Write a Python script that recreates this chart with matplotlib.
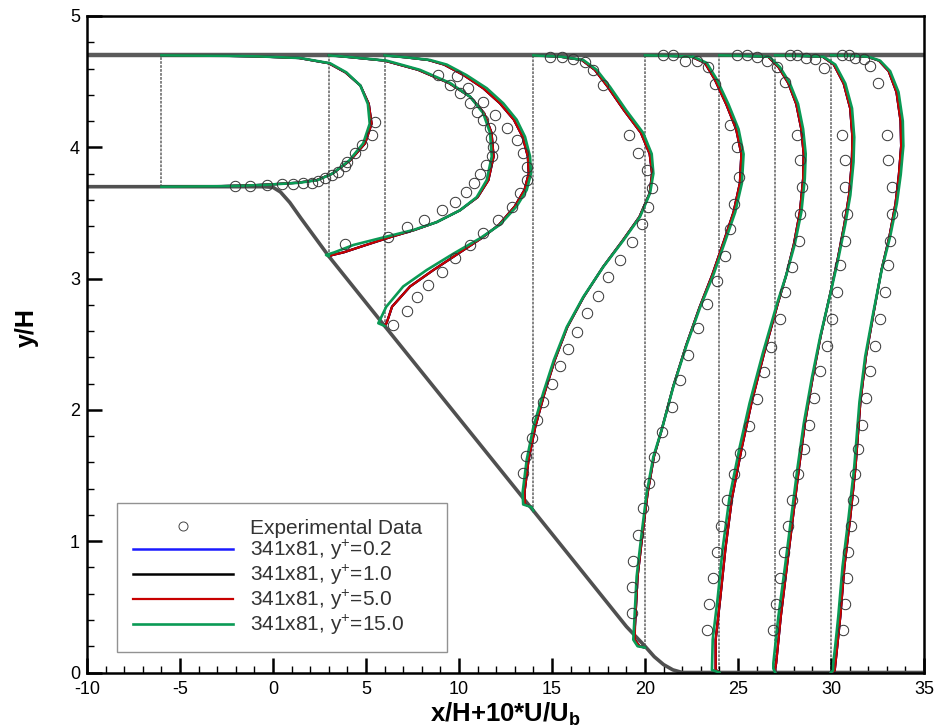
import numpy as np
import matplotlib
matplotlib.use("Agg")
import matplotlib.pyplot as plt
from matplotlib.lines import Line2D
from matplotlib.ticker import MultipleLocator

plt.rcParams['font.family'] = ['Liberation Sans', 'DejaVu Sans']
plt.rcParams['mathtext.fontset'] = 'custom'
plt.rcParams['mathtext.rm'] = 'Liberation Sans'
plt.rcParams['mathtext.bf'] = 'Liberation Sans:bold'
plt.rcParams['axes.unicode_minus'] = False

# wall geometry (x/H, y/H)
top_x = [-10, 35]
top_y = [4.7, 4.7]
wall_x = [-10, -0.5, 0.0, 0.4, 0.9, 1.5, 3.0, 6.0, 14.0, 19.0, 20.0, 20.5, 21.0, 21.5, 22.0, 35.0]
wall_y = [3.70, 3.70, 3.695, 3.66, 3.58, 3.46, 3.17, 2.64, 1.232, 0.35, 0.20, 0.12, 0.06, 0.02, 0.0, 0.0]

stations = [-6, 3, 6, 14, 20, 24, 27, 30]

# computed profiles: y/H, U/Ub (g = y+=15.0, r = y+=5.0)
y_m6 = [3.70, 3.703, 3.708, 3.715, 3.73, 3.75, 3.80, 3.90, 4.03, 4.18, 4.33, 4.47, 4.57, 4.64, 4.68, 4.692, 4.697, 4.70]
g_m6 = [0.0, 0.30, 0.45, 0.57, 0.74, 0.84, 0.92, 1.01, 1.085, 1.12, 1.11, 1.07, 0.995, 0.907, 0.745, 0.53, 0.35, 0.0]
r_m6 = [0.0, 0.28, 0.44, 0.56, 0.73, 0.835, 0.92, 1.015, 1.095, 1.13, 1.115, 1.07, 0.99, 0.90, 0.74, 0.52, 0.34, 0.0]

y_3 = [3.17, 3.18, 3.20, 3.256, 3.32, 3.37, 3.43, 3.52, 3.62, 3.75, 3.93, 4.11, 4.26, 4.385, 4.49, 4.59, 4.66, 4.685, 4.695, 4.70]
g_3 = [0.0, -0.015, 0.03, 0.132, 0.311, 0.454, 0.58, 0.705, 0.795, 0.849, 0.876, 0.867, 0.83, 0.76, 0.652, 0.49, 0.311, 0.13, 0.05, 0.0]
r_3 = [0.0, 0.02, 0.08, 0.20, 0.34, 0.46, 0.58, 0.705, 0.80, 0.858, 0.886, 0.875, 0.835, 0.76, 0.645, 0.48, 0.30, 0.125, 0.05, 0.0]

y_6 = [2.64, 2.66, 2.70, 2.786, 2.94, 3.065, 3.19, 3.307, 3.41, 3.55, 3.675, 3.80, 3.93, 4.08, 4.21, 4.335, 4.45, 4.55, 4.63, 4.665, 4.685, 4.695, 4.70]
g_6 = [0.0, -0.034, -0.02, 0.009, 0.10, 0.226, 0.37, 0.513, 0.62, 0.71, 0.764, 0.787, 0.782, 0.755, 0.71, 0.638, 0.549, 0.44, 0.334, 0.244, 0.119, 0.04, 0.0]
r_6 = [0.0, 0.01, 0.02, 0.04, 0.137, 0.262, 0.395, 0.52, 0.615, 0.70, 0.752, 0.775, 0.77, 0.742, 0.695, 0.62, 0.53, 0.425, 0.32, 0.235, 0.115, 0.04, 0.0]

y_14 = [1.232, 1.26, 1.28, 1.37, 1.62, 1.87, 2.13, 2.38, 2.63, 2.86, 3.09, 3.29, 3.47, 3.65, 3.80, 3.95, 4.11, 4.28, 4.46, 4.59, 4.665, 4.69, 4.70]
g_14 = [0.0, -0.01, -0.055, -0.058, -0.036, 0.0, 0.053, 0.11, 0.179, 0.268, 0.376, 0.483, 0.573, 0.627, 0.645, 0.636, 0.59, 0.50, 0.412, 0.34, 0.268, 0.15, 0.0]
r_14 = [0.0, -0.01, -0.045, -0.048, -0.026, 0.01, 0.06, 0.115, 0.182, 0.27, 0.375, 0.48, 0.57, 0.625, 0.638, 0.625, 0.578, 0.488, 0.40, 0.33, 0.26, 0.145, 0.0]

y_20 = [0.19, 0.20, 0.25, 0.35, 0.73, 1.06, 1.365, 1.644, 1.85, 2.18, 2.495, 2.78, 3.03, 3.285, 3.506, 3.727, 3.948, 4.138, 4.327, 4.517, 4.643, 4.69, 4.698, 4.70]
g_20 = [0.0, -0.04, -0.063, -0.059, -0.045, -0.018, 0.009, 0.045, 0.09, 0.153, 0.224, 0.296, 0.368, 0.431, 0.485, 0.521, 0.53, 0.503, 0.449, 0.386, 0.332, 0.26, 0.1, 0.0]
r_20 = [0.0, -0.03, -0.055, -0.054, -0.04, -0.013, 0.014, 0.048, 0.09, 0.152, 0.222, 0.293, 0.362, 0.424, 0.476, 0.51, 0.518, 0.49, 0.437, 0.375, 0.322, 0.25, 0.1, 0.0]

y_24 = [0.0, 0.02, 0.25, 0.57, 0.95, 1.33, 1.71, 2.05, 2.43, 2.81, 3.03, 3.26, 3.51, 3.76, 3.95, 4.14, 4.33, 4.49, 4.61, 4.69, 4.698, 4.70]
g_24 = [0.0, -0.04, -0.036, -0.009, 0.018, 0.054, 0.108, 0.162, 0.233, 0.31, 0.36, 0.405, 0.441, 0.459, 0.464, 0.45, 0.423, 0.378, 0.326, 0.269, 0.1, 0.0]
r_24 = [0.0, -0.02, -0.02, 0.005, 0.033, 0.068, 0.12, 0.172, 0.24, 0.314, 0.36, 0.40, 0.433, 0.45, 0.453, 0.44, 0.413, 0.37, 0.318, 0.262, 0.1, 0.0]

y_27 = [0.0, 0.03, 0.07, 0.425, 0.81, 1.19, 1.56, 1.90, 2.25, 2.565, 2.88, 3.163, 3.415, 3.636, 3.888, 4.077, 4.297, 4.486, 4.63, 4.69, 4.698, 4.70]
g_27 = [0.0, -0.01, -0.01, 0.017, 0.053, 0.087, 0.12, 0.154, 0.198, 0.243, 0.296, 0.341, 0.377, 0.404, 0.421, 0.425, 0.413, 0.377, 0.323, 0.26, 0.1, 0.0]
r_27 = [0.0, 0.0, 0.005, 0.03, 0.063, 0.096, 0.128, 0.16, 0.202, 0.245, 0.295, 0.338, 0.372, 0.397, 0.412, 0.415, 0.403, 0.368, 0.315, 0.255, 0.1, 0.0]

y_30 = [0.0, 0.015, 0.07, 0.204, 0.425, 0.806, 1.187, 1.567, 2.061, 2.408, 2.754, 3.069, 3.32, 3.573, 3.793, 4.01, 4.2, 4.42, 4.58, 4.66, 4.69, 4.698, 4.70]
g_30 = [0.0, 0.011, 0.012, 0.023, 0.039, 0.062, 0.095, 0.125, 0.153, 0.184, 0.229, 0.273, 0.318, 0.354, 0.375, 0.389, 0.386, 0.363, 0.318, 0.264, 0.2, 0.1, 0.0]
r_30 = [0.0, 0.02, 0.024, 0.034, 0.05, 0.072, 0.104, 0.132, 0.158, 0.188, 0.231, 0.272, 0.314, 0.347, 0.365, 0.377, 0.374, 0.352, 0.31, 0.258, 0.195, 0.1, 0.0]

# experimental data: y/H, U/Ub
ey_m6 = [3.705, 3.705, 3.713, 3.72, 3.72, 3.725, 3.73, 3.746, 3.764, 3.79, 3.814, 3.857, 3.888, 3.954, 4.017, 4.094, 4.195]
eu_m6 = [0.396, 0.476, 0.566, 0.647, 0.709, 0.763, 0.808, 0.844, 0.88, 0.916, 0.951, 0.987, 0.997, 1.041, 1.077, 1.13, 1.148]

ey_3 = [3.265, 3.32, 3.395, 3.45, 3.52, 3.585, 3.657, 3.725, 3.80, 3.865, 3.93, 4.005, 4.07, 4.145, 4.21, 4.27, 4.335, 4.41, 4.475, 4.55]
eu_3 = [0.087, 0.32, 0.42, 0.51, 0.607, 0.678, 0.736, 0.78, 0.813, 0.845, 0.876, 0.884, 0.87, 0.867, 0.83, 0.795, 0.76, 0.705, 0.652, 0.589]

ey_6 = [2.647, 2.75, 2.858, 2.95, 3.05, 3.155, 3.256, 3.345, 3.446, 3.548, 3.65, 3.75, 3.852, 3.955, 4.056, 4.145, 4.246, 4.347, 4.45, 4.54]
eu_6 = [0.047, 0.122, 0.176, 0.235, 0.307, 0.378, 0.46, 0.53, 0.611, 0.683, 0.728, 0.764, 0.764, 0.746, 0.71, 0.656, 0.594, 0.53, 0.45, 0.388]

ey_14 = [1.517, 1.651, 1.784, 1.923, 2.063, 2.197, 2.334, 2.462, 2.59, 2.736, 2.87, 3.01, 3.14, 3.28, 3.416, 3.548, 3.688, 3.827, 3.96, 4.093, 4.474, 4.589, 4.652, 4.67, 4.69, 4.69]
eu_14 = [-0.054, -0.04, -0.01, 0.021, 0.053, 0.098, 0.143, 0.188, 0.233, 0.286, 0.349, 0.403, 0.466, 0.528, 0.582, 0.618, 0.636, 0.609, 0.564, 0.516, 0.376, 0.322, 0.277, 0.215, 0.152, 0.089]

ey_20 = [4.70, 4.70, 4.66, 4.66, 4.61, 4.485, 4.17, 4.0, 3.775, 3.57, 3.38, 3.175, 2.985, 2.81, 2.62, 2.42, 2.23, 2.02, 1.83, 1.64, 1.446, 1.25, 1.047, 0.849, 0.653, 0.45]
eu_20 = [0.099, 0.153, 0.215, 0.278, 0.341, 0.377, 0.458, 0.494, 0.503, 0.476, 0.458, 0.431, 0.386, 0.332, 0.287, 0.233, 0.189, 0.144, 0.09, 0.048, 0.023, -0.009, -0.036, -0.063, -0.072, -0.072]

ey_24 = [4.70, 4.70, 4.69, 4.66, 4.61, 4.50, 4.09, 3.90, 3.70, 3.494, 3.29, 3.085, 2.896, 2.69, 2.48, 2.29, 2.085, 1.88, 1.674, 1.51, 1.314, 1.116, 0.92, 0.72, 0.52, 0.32]
eu_24 = [0.094, 0.148, 0.2, 0.255, 0.309, 0.354, 0.418, 0.436, 0.445, 0.436, 0.427, 0.391, 0.355, 0.325, 0.28, 0.24, 0.20, 0.157, 0.112, 0.078, 0.039, 0.008, -0.011, -0.033, -0.054, -0.068]

ey_27 = [4.70, 4.70, 4.68, 4.67, 4.605, 4.09, 3.90, 3.70, 3.494, 3.29, 3.10, 2.896, 2.69, 2.486, 2.298, 2.093, 1.888, 1.699, 1.512, 1.314, 1.116, 0.92, 0.722, 0.52, 0.324]
eu_27 = [0.082, 0.118, 0.163, 0.216, 0.261, 0.359, 0.377, 0.377, 0.386, 0.377, 0.35, 0.332, 0.305, 0.279, 0.243, 0.207, 0.18, 0.154, 0.125, 0.092, 0.07, 0.047, 0.026, 0.004, -0.01]

ey_30 = [4.70, 4.70, 4.68, 4.67, 4.62, 4.49, 4.09, 3.90, 3.70, 3.494, 3.29, 3.10, 2.896, 2.69, 2.486, 2.298, 2.093, 1.888, 1.699, 1.512, 1.314, 1.116, 0.92, 0.722, 0.52, 0.324]
eu_30 = [0.059, 0.095, 0.13, 0.175, 0.211, 0.255, 0.30, 0.309, 0.327, 0.327, 0.318, 0.309, 0.291, 0.264, 0.238, 0.21, 0.19, 0.165, 0.147, 0.128, 0.117, 0.105, 0.094, 0.085, 0.076, 0.067]

profiles = [(y_m6, g_m6, r_m6), (y_3, g_3, r_3), (y_6, g_6, r_6), (y_14, g_14, r_14),
            (y_20, g_20, r_20), (y_24, g_24, r_24), (y_27, g_27, r_27), (y_30, g_30, r_30)]
exp_data = [(ey_m6, eu_m6), (ey_3, eu_3), (ey_6, eu_6), (ey_14, eu_14),
            (ey_20, eu_20), (ey_24, eu_24), (ey_27, eu_27), (ey_30, eu_30)]

labels = ['Experimental Data', '341x81, y$^{+}$=0.2', '341x81, y$^{+}$=1.0',
          '341x81, y$^{+}$=5.0', '341x81, y$^{+}$=15.0']
c_blue, c_black, c_red, c_green = '#1a1aff', '#000000', '#c80000', '#0a9a55'

fig = plt.figure(figsize=(9.42, 7.27), dpi=100)
ax = fig.add_axes([87/942, 54.5/727, 837/942, 656.5/727])

# walls
ax.plot(top_x, top_y, color='#5a5a5a', lw=3.2, zorder=2, solid_capstyle='butt')
ax.plot(wall_x, wall_y, color='#505050', lw=2.6, zorder=2)

# station lines
for xs in stations:
    yb = np.interp(xs, wall_x, wall_y)
    ax.plot([xs, xs], [yb, 4.7], color='#7a7a7a', lw=1.3, ls=(0, (1.5, 0.7)), zorder=1)

# profiles drawn at x/H + 10*U/Ub
for xs, (yy, ug, ur), (ey, eu) in zip(stations, profiles, exp_data):
    ax.plot(xs + 10*np.array(ur), yy, color=c_blue, lw=1.6, zorder=3)
    ax.plot(xs + 10*np.array(ur), yy, color=c_black, lw=1.6, zorder=3.1)
    ax.plot(xs + 10*np.array(ur), yy, color=c_red, lw=1.6, zorder=3.2)
    ax.plot(xs + 10*np.array(ug), yy, color=c_green, lw=1.9, zorder=3.3)
    ax.plot(xs + 10*np.array(eu), ey, ls='none', marker='o', ms=7.5, mfc='none',
            mec='#333333', mew=0.7, zorder=4)

ax.set_xlim(-10, 35)
ax.set_ylim(0, 5)
ax.xaxis.set_major_locator(MultipleLocator(5))
ax.xaxis.set_minor_locator(MultipleLocator(1))
ax.yaxis.set_major_locator(MultipleLocator(1))
ax.yaxis.set_minor_locator(MultipleLocator(0.2))
ax.tick_params(which='both', direction='in', top=False, right=False, labelsize=13)
ax.tick_params(axis='x', pad=6)
ax.tick_params(axis='y', pad=5)
ax.tick_params(which='major', length=11, width=1.8)
ax.tick_params(which='minor', length=5, width=1.0)
for s in ax.spines.values():
    s.set_linewidth(1.8)

ax.set_xlabel(r'x/H+10*U/U$_{\mathbf{b}}$', fontsize=18.5, fontweight='bold')
ax.set_ylabel('y/H', fontsize=18, fontweight='bold')
ax.xaxis.set_label_coords(0.5, -0.042)
ax.yaxis.set_label_coords(-0.058, 0.525)

handles = [Line2D([], [], ls='none', marker='o', ms=6.5, mfc='none', mec='#444444', mew=0.7),
           Line2D([], [], color=c_blue, lw=1.8),
           Line2D([], [], color=c_black, lw=1.8),
           Line2D([], [], color=c_red, lw=1.6),
           Line2D([], [], color=c_green, lw=1.9)]
leg = ax.legend(handles, labels, loc='upper left', mode='expand',
                bbox_to_anchor=(30/837, 0.0388, 330/837, 169.5/656.5 - 0.0388),
                fontsize=15, frameon=True, fancybox=False, edgecolor='#777777',
                handlelength=4.8, handletextpad=0.85, labelspacing=0.0,
                borderpad=0.75, borderaxespad=0.0)
leg.get_frame().set_linewidth(1.0)
for t in leg.get_texts():
    t.set_color('#333333')

fig.savefig('out.png', dpi=100)
